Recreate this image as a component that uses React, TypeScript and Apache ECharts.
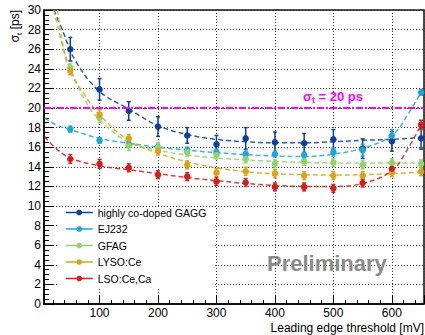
import React, { useEffect, useRef } from "react";
import * as echarts from "echarts";

const FONT = "Liberation Sans, Arial, Helvetica, sans-serif";

// x-axis categories (threshold in mV)
const thresholds = [50, 100, 150, 200, 250, 300, 350, 400, 450, 500, 550, 600, 650];

const seriesNames = ["highly co-doped GAGG", "EJ232", "GFAG", "LYSO:Ce", "LSO:Ce,Ca"];
const seriesColors = ["#0c3f9f", "#1ca6da", "#90d26c", "#d9a31a", "#d41d1d"];

// measured time resolution sigma_t [ps] and errors
const gaggSigma = [26.0, 21.9, 19.7, 18.1, 17.2, 16.3, 16.9, 16.5, 16.4, 16.8, 15.85, 16.6, 16.9];
const gaggErr = [1.2, 1.1, 0.95, 1.0, 0.8, 0.9, 1.1, 1.05, 1.0, 1.0, 1.0, 1.0, 1.1];
const ej232Sigma = [17.85, 16.7, 16.3, 16.0, 15.7, 15.5, 15.3, 15.3, 15.2, 15.5, 15.7, 17.2, 21.6];
const ej232Err = [0.3, 0.3, 0.3, 0.3, 0.3, 0.3, 0.3, 0.3, 0.3, 0.4, 0.6, 0.6, 0.3];
const gfagSigma = [24.1, 19.0, 16.15, 16.0, 15.5, 15.2, 14.8, 14.3, 14.55, 14.45, 14.2, 14.4, 14.3];
const gfagErr = [0.4, 0.5, 0.45, 0.45, 0.4, 0.4, 0.4, 0.4, 0.4, 0.4, 0.4, 0.4, 0.4];
const lysoSigma = [23.8, 19.3, 16.9, 15.6, 14.2, 13.4, 13.55, 13.3, 13.1, 13.1, 13.1, 13.4, 13.5];
const lysoErr = [0.4, 0.5, 0.4, 0.4, 0.4, 0.4, 0.4, 0.4, 0.4, 0.4, 0.4, 0.4, 0.4];
const lsoSigma = [14.8, 14.3, 13.9, 13.2, 13.0, 12.5, 12.4, 11.95, 11.95, 11.8, 12.35, 13.8, 18.3];
const lsoErr = [0.45, 0.45, 0.4, 0.4, 0.4, 0.4, 0.4, 0.4, 0.4, 0.4, 0.4, 0.45, 0.45];

// fit curves
const gaggFitX = [22, 36, 59, 100, 150, 200, 250, 300, 350, 400, 450, 500, 550, 600, 655];
const gaggFitY = [30, 28, 24.8, 21.7, 19.9, 18.2, 17.3, 16.8, 16.55, 16.45, 16.45, 16.55, 16.7, 16.8, 17.0];
const ej232FitX = [6, 25, 50, 100, 150, 200, 250, 300, 350, 400, 450, 500, 550, 600, 630, 650];
const ej232FitY = [19.0, 18.3, 17.8, 16.9, 16.4, 16.0, 15.7, 15.45, 15.25, 15.1, 15.05, 15.3, 15.9, 17.2, 19.6, 21.6];
const gfagFitX = [28, 42, 50, 75, 100, 150, 200, 250, 300, 350, 400, 450, 500, 550, 600, 655];
const gfagFitY = [30, 25, 24.0, 20.8, 18.8, 16.5, 15.7, 15.2, 14.9, 14.7, 14.55, 14.45, 14.4, 14.4, 14.4, 14.4];
const lysoFitX = [22, 50, 75, 100, 150, 200, 250, 300, 350, 400, 450, 500, 550, 600, 655];
const lysoFitY = [30, 23.8, 21.3, 19.3, 16.7, 15.4, 14.5, 13.9, 13.5, 13.3, 13.2, 13.15, 13.2, 13.3, 13.5];
const lsoFitX = [6, 25, 50, 100, 150, 200, 250, 300, 350, 400, 450, 500, 550, 600, 625, 650];
const lsoFitY = [17.1, 15.9, 14.9, 14.1, 13.7, 13.3, 12.9, 12.6, 12.3, 12.1, 12.0, 12.0, 12.3, 13.6, 15.6, 18.3];

const sigmaRef = 20;
const xMin = 5;
const xMax = 655;
const yMin = 0;
const yMax = 30;

const measured = [
  { y: gaggSigma, e: gaggErr },
  { y: ej232Sigma, e: ej232Err },
  { y: gfagSigma, e: gfagErr },
  { y: lysoSigma, e: lysoErr },
  { y: lsoSigma, e: lsoErr },
];
const fits = [
  { x: gaggFitX, y: gaggFitY },
  { x: ej232FitX, y: ej232FitY },
  { x: gfagFitX, y: gfagFitY },
  { x: lysoFitX, y: lysoFitY },
  { x: lsoFitX, y: lsoFitY },
];

export default function App() {
  const ref = useRef<HTMLDivElement>(null);

  useEffect(() => {
    if (!ref.current) return;
    const chart = echarts.init(ref.current, undefined, { renderer: "svg" });

    const series: any[] = [];

    fits.forEach((f, i) => {
      const s: any = {
        name: "fit" + i,
        type: "line",
        data: f.x.map((x, k) => [x, f.y[k]]),
        smooth: 0.4,
        symbol: "none",
        silent: true,
        z: 2,
        lineStyle: { color: seriesColors[i], width: 1.5, type: [5, 3], opacity: 0.85 },
      };
      if (i === 0) {
        s.markLine = {
          silent: true,
          symbol: "none",
          label: { show: false },
          lineStyle: { color: "#ff00ff", width: 2, type: [7, 2, 2, 2], opacity: 1 },
          data: [{ yAxis: sigmaRef }],
        };
      }
      series.push(s);
    });

    measured.forEach((m, i) => {
      const col = seriesColors[i];
      series.push({
        name: "err" + i,
        type: "custom",
        z: 3,
        silent: true,
        data: thresholds.map((x, k) => [x, m.y[k], m.e[k]]),
        encode: { x: 0, y: 1 },
        renderItem: (params: any, api: any) => {
          const x = api.value(0);
          const y = api.value(1);
          const e = api.value(2);
          const top = api.coord([x, y + e]);
          const bot = api.coord([x, y - e]);
          const cap = 2;
          const st = { stroke: col, lineWidth: 1.5 };
          return {
            type: "group",
            children: [
              { type: "line", shape: { x1: top[0], y1: top[1], x2: bot[0], y2: bot[1] }, style: st },
              { type: "line", shape: { x1: top[0] - cap, y1: top[1], x2: top[0] + cap, y2: top[1] }, style: st },
              { type: "line", shape: { x1: bot[0] - cap, y1: bot[1], x2: bot[0] + cap, y2: bot[1] }, style: st },
            ],
          };
        },
      });
    });

    measured.forEach((m, i) => {
      series.push({
        name: seriesNames[i],
        type: "line",
        z: 4,
        data: thresholds.map((x, k) => [x, m.y[k]]),
        symbol: "circle",
        symbolSize: 6.5,
        itemStyle: { color: seriesColors[i] },
        lineStyle: { color: seriesColors[i], width: 1.5, opacity: 0 },
      });
    });

    const axisText = { fontSize: 12, color: "#000", fontFamily: FONT };
    const gridDots = { type: [1, 2], color: "#333", width: 1 };

    chart.setOption({
      animation: false,
      backgroundColor: "#fff",
      textStyle: { fontFamily: FONT },
      grid: {
        left: 44,
        right: 1,
        top: 10,
        bottom: 31,
        show: true,
        borderColor: "#111",
        borderWidth: 1.5,
      },
      legend: {
        orient: "vertical",
        left: 58,
        top: 207,
        padding: [0, 9, 4, 7],
        backgroundColor: "#fff",
        itemWidth: 27,
        itemHeight: 7,
        itemGap: 5.5,
        data: seriesNames,
        selectedMode: false,
        z: 5,
        textStyle: { fontSize: 10.5, color: "#000", fontFamily: FONT },
        lineStyle: { opacity: 1, width: 1.5 },
      },
      xAxis: {
        type: "value",
        min: xMin,
        max: xMax,
        splitNumber: 7,
        axisLine: { show: true, onZero: false, lineStyle: { color: "#000", width: 1.5 } },
        axisTick: { show: true, inside: true, length: 9, lineStyle: { color: "#000", width: 1 } },
        minorTick: { show: true, splitNumber: 5, length: 4, lineStyle: { color: "#000", width: 1 } },
        axisLabel: { ...axisText, margin: 3, showMinLabel: false, showMaxLabel: false },
        splitLine: { show: true, lineStyle: gridDots },
      },
      yAxis: {
        type: "value",
        min: yMin,
        max: yMax,
        interval: 2,
        axisLine: { show: true, onZero: false, lineStyle: { color: "#000", width: 1.5 } },
        axisTick: { show: true, inside: true, length: 10, lineStyle: { color: "#000", width: 1 } },
        minorTick: { show: true, splitNumber: 4, length: 5, lineStyle: { color: "#000", width: 1 } },
        axisLabel: { ...axisText, margin: 3 },
        splitLine: { show: true, lineStyle: gridDots },
      },
      graphic: [
        {
          type: "text",
          x: 15,
          y: 10,
          rotation: Math.PI / 2,
          style: {
            text: "{a|σ}{s|t}{a| [ps]}",
            align: "right",
            verticalAlign: "middle",
            fill: "#000",
            rich: {
              a: { fontSize: 12, fontFamily: FONT, fill: "#000", color: "#000" },
              s: { fontSize: 8, fontFamily: FONT, fill: "#000", color: "#000", padding: [8, 0, 0, 0] },
            },
          },
        },
        {
          type: "text",
          x: 424,
          y: 328,
          style: {
            text: "Leading edge threshold [mV]",
            align: "right",
            verticalAlign: "middle",
            fill: "#000",
            font: "12px " + FONT,
          },
        },
        {
          type: "text",
          x: 303,
          y: 96,
          z: 10,
          style: {
            text: "{a|σ}{s|t}{a| = 20 ps}",
            align: "left",
            verticalAlign: "middle",
            fill: "#ff00ff",
            rich: {
              a: { fontSize: 13, fontWeight: "bold", fontFamily: FONT, fill: "#ff00ff", color: "#ff00ff" },
              s: { fontSize: 9, fontWeight: "bold", fontFamily: FONT, fill: "#ff00ff", color: "#ff00ff", padding: [8, 0, 0, 0] },
            },
          },
        },
        {
          type: "text",
          x: 267,
          y: 263,
          z: 10,
          style: {
            text: "Preliminary",
            align: "left",
            verticalAlign: "middle",
            fill: "#8a8a8a",
            font: "bold 22px " + FONT,
          },
        },
      ],
      series,
    });

    return () => chart.dispose();
  }, []);

  return (
    <div
      ref={ref}
      style={{ position: "absolute", left: 0, top: 0, width: 425, height: 335, background: "#fff" }}
    />
  );
}
